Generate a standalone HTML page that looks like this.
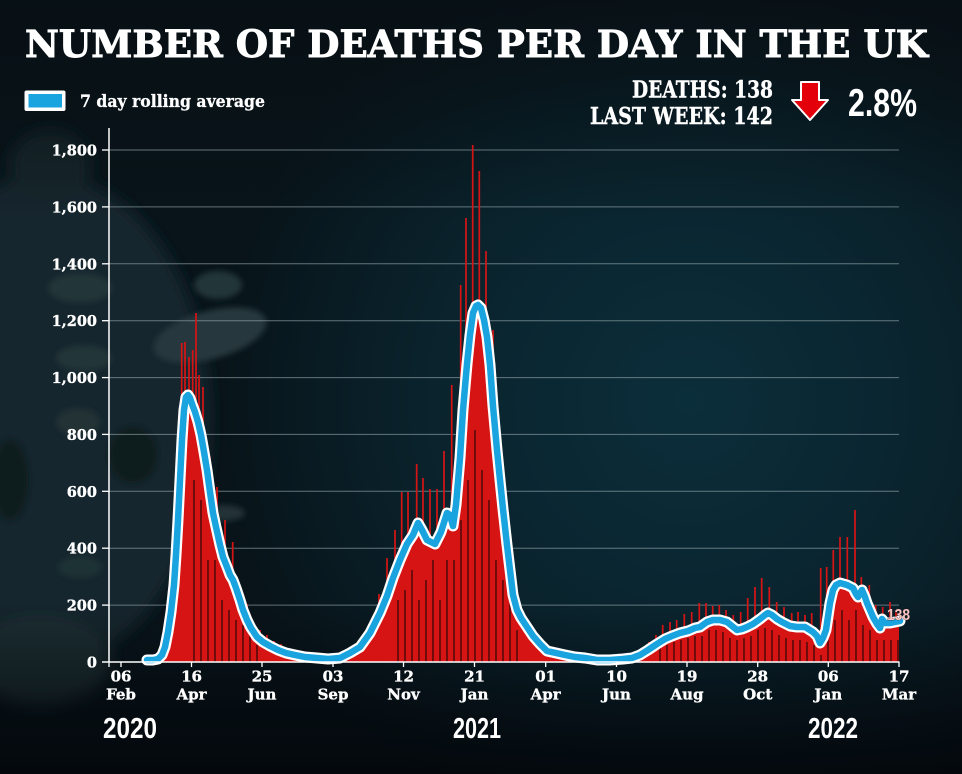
<!DOCTYPE html>
<html>
<head>
<meta charset="utf-8">
<style>
  html,body{margin:0;padding:0;background:#08141a;}
  svg{display:block;}
  .serif{font-family:"DejaVu Serif","Liberation Serif",serif;font-weight:bold;}
  .sans{font-family:"Liberation Sans","DejaVu Sans",sans-serif;font-weight:bold;}
</style>
</head>
<body>
<svg width="962" height="774" viewBox="0 0 962 774" xmlns="http://www.w3.org/2000/svg">
  <defs>
    <radialGradient id="bgRad" cx="690" cy="400" r="470" gradientUnits="userSpaceOnUse">
      <stop offset="0" stop-color="#0b2e3b"/>
      <stop offset="0.55" stop-color="#0a232d"/>
      <stop offset="1" stop-color="#08141a"/>
    </radialGradient>
    <linearGradient id="bottomFade" x1="0" y1="600" x2="0" y2="774" gradientUnits="userSpaceOnUse">
      <stop offset="0" stop-color="#03060a" stop-opacity="0"/>
      <stop offset="1" stop-color="#03060a" stop-opacity="0.85"/>
    </linearGradient>
    <linearGradient id="topFade" x1="0" y1="0" x2="0" y2="220" gradientUnits="userSpaceOnUse">
      <stop offset="0" stop-color="#070e12" stop-opacity="0.75"/>
      <stop offset="1" stop-color="#070e12" stop-opacity="0"/>
    </linearGradient>
    <filter id="blur8" x="-30%" y="-30%" width="160%" height="160%"><feGaussianBlur stdDeviation="8"/></filter>
    <filter id="blur3" x="-30%" y="-30%" width="160%" height="160%"><feGaussianBlur stdDeviation="3"/></filter>
  </defs>

  <!-- background -->
  <rect x="0" y="0" width="962" height="774" fill="#08141a"/>
  <rect x="0" y="0" width="962" height="774" fill="url(#bgRad)"/>
  <!-- virus on left -->
  <g filter="url(#blur8)">
    <ellipse cx="45" cy="420" rx="165" ry="245" fill="#16282d"/>
    <ellipse cx="40" cy="660" rx="70" ry="45" fill="#1a2e33"/>
    <ellipse cx="50" cy="165" rx="40" ry="35" fill="#14252a"/>
  </g>
  <g filter="url(#blur3)">
    <ellipse cx="210" cy="335" rx="58" ry="24" transform="rotate(-15 210 335)" fill="#26393e"/>
    <ellipse cx="218" cy="285" rx="24" ry="14" fill="#223539"/>
    <ellipse cx="80" cy="288" rx="32" ry="15" fill="#233639"/>
    <ellipse cx="84" cy="358" rx="28" ry="13" fill="#213437"/>
    <ellipse cx="78" cy="422" rx="22" ry="14" fill="#203336"/>
    <ellipse cx="133" cy="455" rx="24" ry="28" fill="#0d1a1e"/>
    <ellipse cx="225" cy="513" rx="20" ry="8" fill="#203336"/>
    <ellipse cx="80" cy="567" rx="22" ry="11" fill="#1f3235"/>
    <ellipse cx="10" cy="480" rx="18" ry="40" fill="#0e1b1f"/>
  </g>
  <rect x="0" y="0" width="962" height="774" fill="url(#topFade)"/>
  <rect x="0" y="0" width="962" height="774" fill="url(#bottomFade)"/>

  <!-- title -->
  <text class="serif" x="25" y="57" font-size="37" fill="#ffffff" stroke="#ffffff" stroke-width="0.9" textLength="903" lengthAdjust="spacingAndGlyphs">NUMBER OF DEATHS PER DAY IN THE UK</text>

  <!-- legend -->
  <rect x="24.5" y="90.5" width="41" height="20.5" rx="2" fill="#ffffff"/>
  <rect x="28.5" y="94" width="33.5" height="13.5" fill="#19a3df"/>
  <text class="serif" x="80" y="107" font-size="17" fill="#ffffff" stroke="#ffffff" stroke-width="0.3" textLength="185" lengthAdjust="spacingAndGlyphs">7 day rolling average</text>

  <!-- deaths stats -->
  <text class="serif" x="632" y="97.5" font-size="23" fill="#ffffff" stroke="#ffffff" stroke-width="0.4" textLength="141" lengthAdjust="spacingAndGlyphs">DEATHS: 138</text>
  <text class="serif" x="590" y="124" font-size="23" fill="#ffffff" stroke="#ffffff" stroke-width="0.4" textLength="183" lengthAdjust="spacingAndGlyphs">LAST WEEK: 142</text>
  <polygon points="801,82 819,82 819,100 828,100 810,120 792,100 801,100" fill="#e3000b" stroke="#ffffff" stroke-width="2" stroke-linejoin="round"/>
  <text class="sans" x="848" y="116" font-size="39" fill="#ffffff" textLength="69" lengthAdjust="spacingAndGlyphs">2.8%</text>

  <!-- gridlines -->
  <g stroke="#9fb0b6" stroke-opacity="0.6" stroke-width="1">
    <line x1="109" y1="605.1" x2="899" y2="605.1"/>
    <line x1="109" y1="548.2" x2="899" y2="548.2"/>
    <line x1="109" y1="491.3" x2="899" y2="491.3"/>
    <line x1="109" y1="434.4" x2="899" y2="434.4"/>
    <line x1="109" y1="377.6" x2="899" y2="377.6"/>
    <line x1="109" y1="320.7" x2="899" y2="320.7"/>
    <line x1="109" y1="263.8" x2="899" y2="263.8"/>
    <line x1="109" y1="206.9" x2="899" y2="206.9"/>
    <line x1="109" y1="150" x2="899" y2="150"/>
  </g>

  <!-- y labels -->
  <g class="serif" font-size="14.5" fill="#ffffff" stroke="#ffffff" stroke-width="0.35" text-anchor="end">
    <text x="97" y="667.5">0</text>
    <text x="97" y="610.6">200</text>
    <text x="97" y="553.7">400</text>
    <text x="97" y="496.8">600</text>
    <text x="97" y="439.9">800</text>
    <text x="97" y="383.1">1,000</text>
    <text x="97" y="326.2">1,200</text>
    <text x="97" y="269.3">1,400</text>
    <text x="97" y="212.4">1,600</text>
    <text x="97" y="155.5">1,800</text>
  </g>

  <!-- red daily area -->
  <path fill="#d71414" d="M158,662 L158,659 L162,655 L165,647 L168,632 L171,612 L174,585 L176,555 L178,520 L180,480 L182,440 L184,410 L186,397 L188,395 L190,398 L192,404 L195,412 L198,422 L201,435 L204,452 L207,470 L210,492 L213,513 L216,527 L220,545 L223,557 L227,567 L230,575 L233,580 L236,588 L240,600 L243,610 L247,620 L251,628 L257,637 L263,642 L270,646 L278,650 L286,653 L295,655 L305,657 L317,658 L328,659 L340,658 L350,653 L360,647 L370,633 L380,613 L387,596 L393,578 L400,560 L407,544 L413,535 L418,523 L422,530 L427,540 L435,544 L441,532 L447,513 L450,515 L453,526 L456,505 L460,458 L463,410 L467,364 L470,335 L473,313 L476,306 L478,305 L481,308 L484,320 L487,337 L490,365 L493,406 L497,450 L500,480 L503,509 L507,545 L510,570 L513,595 L517,610 L521,618 L527,627 L533,636 L540,644 L547,651 L556,653 L565,655 L575,657 L585,658 L597,660 L610,660 L623,659 L632,658 L640,655 L648,650 L657,644 L665,639 L672,636 L680,633 L688,631 L695,628 L700,627 L707,622 L713,620 L720,620 L727,622 L732,626 L737,630 L742,629 L747,627 L753,624 L760,619 L765,615 L768,613 L772,615 L777,619 L782,622 L790,626 L797,627 L805,627 L813,632 L817,636 L820,643 L823,638 L826,630 L830,603 L833,590 L836,585 L840,583 L847,585 L853,588 L856,594 L858,597 L862,590 L865,597 L867,603 L870,610 L873,617 L877,624 L880,628 L882,619 L885,623 L890,623 L895,622 L899,621 L899,662 Z"/>

  <!-- red spikes -->
  <path stroke="#d71414" stroke-width="1.7" fill="none" d="
    M168,662V610 M175,662V540 M181.7,662V343 M185,662V342 M189,662V357 M192.7,662V350 M196,662V313 M199,662V375 M203,662V387 M210,662V457 M217,662V487 M225,662V520 M232.7,662V542 M240,662V590 M247,662V604 M253,662V622 M260,662V630 M267,662V635 M274,662V641 M281,662V644
    M365,662V640 M372,662V625 M379,662V594 M387,662V558 M395,662V530 M401.7,662V492 M408,662V492 M416.7,662V464 M423,662V478 M430,662V489 M437,662V489 M444,662V451 M451.7,662V385 M460.7,662V285 M466,662V218 M472.7,662V145 M479.3,662V171 M486,662V251 M493,662V330 M496.7,662V433 M503,662V470 M510,662V540 M517,662V590 M524,662V615
    M642,662V648 M649,662V642 M656,662V635 M662.7,662V625 M670,662V622 M676.7,662V620 M684.3,662V614 M691.7,662V612 M699.3,662V603 M706,662V603 M712.7,662V606 M719.3,662V605 M726,662V610 M733.3,662V615 M740.7,662V612 M747.7,662V598 M755,662V587 M761.7,662V578 M769.3,662V587 M776.7,662V602 M784,662V607 M791.7,662V613 M798,662V612 M805,662V615 M811.7,662V613
    M820.7,662V568 M826.7,662V567 M833.3,662V550 M840,662V537 M847.3,662V537 M855,662V510 M861.3,662V577 M869.3,662V585 M875.7,662V605 M882.7,662V607 M890,662V602 M896,662V610"/>

  <!-- dark notches (low days) -->
  <path stroke="#3a0707" stroke-width="1.3" fill="none" d="
    M194,662V480 M201,662V500 M208,662V560 M215,662V560 M222,662V600 M229,662V610 M236,662V620 M243,662V625 M250,662V635 M257,662V645
    M398,662V600 M405,662V590 M412,662V570 M419,662V600 M426,662V580 M433,662V560 M440,662V600 M447,662V560 M454,662V560 M461,662V520 M468,662V480 M475,662V430 M482,662V470 M489,662V500 M496,662V560 M503,662V580 M510,662V600 M517,662V630
    M660,662V648 M667,662V645 M674,662V642 M681,662V640 M688,662V638 M695,662V636 M702,662V636 M709,662V630 M716,662V630 M723,662V632 M730,662V638 M737,662V640 M744,662V638 M751,662V636 M758,662V630 M765,662V628 M772,662V630 M779,662V635 M786,662V638 M793,662V640 M800,662V640 M807,662V642 M814,662V645 M821,662V655 M828,662V640 M835,662V620 M842,662V610 M849,662V620 M856,662V610 M863,662V625 M870,662V630 M877,662V640 M884,662V640 M891,662V640 M898,662V640"/>

  <!-- rolling average line: white outline then blue -->
  <g fill="none" stroke-linejoin="round" stroke-linecap="round">
  <path stroke="#ffffff" stroke-width="11" d="M147,660 L153,660 L158,659 L162,655 L165,647 L168,632 L171,612 L174,585 L176,555 L178,520 L180,480 L182,440 L184,410 L186,397 L188,395 L190,398 L192,404 L195,412 L198,422 L201,435 L204,452 L207,470 L210,492 L213,513 L216,527 L220,545 L223,557 L227,567 L230,575 L233,580 L236,588 L240,600 L243,610 L247,620 L251,628 L257,637 L263,642 L270,646 L278,650 L286,653 L295,655 L305,657 L317,658 L328,659 L340,658 L350,653 L360,647 L370,633 L380,613 L387,596 L393,578 L400,560 L407,544 L413,535 L418,523 L422,530 L427,540 L435,544 L441,532 L447,513 L450,515 L453,526 L456,505 L460,458 L463,410 L467,364 L470,335 L473,313 L476,306 L478,305 L481,308 L484,320 L487,337 L490,365 L493,406 L497,450 L500,480 L503,509 L507,545 L510,570 L513,595 L517,610 L521,618 L527,627 L533,636 L540,644 L547,651 L556,653 L565,655 L575,657 L585,658 L597,660 L610,660 L623,659 L632,658 L640,655 L648,650 L657,644 L665,639 L672,636 L680,633 L688,631 L695,628 L700,627 L707,622 L713,620 L720,620 L727,622 L732,626 L737,630 L742,629 L747,627 L753,624 L760,619 L765,615 L768,613 L772,615 L777,619 L782,622 L790,626 L797,627 L805,627 L813,632 L817,636 L820,643 L823,638 L826,630 L830,603 L833,590 L836,585 L840,583 L847,585 L853,588 L856,594 L858,597 L862,590 L865,597 L867,603 L870,610 L873,617 L877,624 L880,628 L882,619 L885,623 L890,623 L895,622 L900,621"/>
  <path stroke="#19a3df" stroke-width="6.5" d="M147,660 L153,660 L158,659 L162,655 L165,647 L168,632 L171,612 L174,585 L176,555 L178,520 L180,480 L182,440 L184,410 L186,397 L188,395 L190,398 L192,404 L195,412 L198,422 L201,435 L204,452 L207,470 L210,492 L213,513 L216,527 L220,545 L223,557 L227,567 L230,575 L233,580 L236,588 L240,600 L243,610 L247,620 L251,628 L257,637 L263,642 L270,646 L278,650 L286,653 L295,655 L305,657 L317,658 L328,659 L340,658 L350,653 L360,647 L370,633 L380,613 L387,596 L393,578 L400,560 L407,544 L413,535 L418,523 L422,530 L427,540 L435,544 L441,532 L447,513 L450,515 L453,526 L456,505 L460,458 L463,410 L467,364 L470,335 L473,313 L476,306 L478,305 L481,308 L484,320 L487,337 L490,365 L493,406 L497,450 L500,480 L503,509 L507,545 L510,570 L513,595 L517,610 L521,618 L527,627 L533,636 L540,644 L547,651 L556,653 L565,655 L575,657 L585,658 L597,660 L610,660 L623,659 L632,658 L640,655 L648,650 L657,644 L665,639 L672,636 L680,633 L688,631 L695,628 L700,627 L707,622 L713,620 L720,620 L727,622 L732,626 L737,630 L742,629 L747,627 L753,624 L760,619 L765,615 L768,613 L772,615 L777,619 L782,622 L790,626 L797,627 L805,627 L813,632 L817,636 L820,643 L823,638 L826,630 L830,603 L833,590 L836,585 L840,583 L847,585 L853,588 L856,594 L858,597 L862,590 L865,597 L867,603 L870,610 L873,617 L877,624 L880,628 L882,619 L885,623 L890,623 L895,622 L900,621"/>
  </g>

  <!-- 138 label -->
  <text class="sans" x="887" y="620" font-size="16" fill="#f6c6c4" stroke="#3a1010" stroke-width="0.6" paint-order="stroke" textLength="23" lengthAdjust="spacingAndGlyphs">138</text>

  <!-- axes -->
  <line x1="109" y1="128" x2="109" y2="662" stroke="#ffffff" stroke-width="1.5"/>
  <line x1="102" y1="662" x2="899.5" y2="662" stroke="#ffffff" stroke-width="1.5"/>
  <g stroke="#ffffff" stroke-width="1.3">
    <line x1="102" y1="605.1" x2="109" y2="605.1"/>
    <line x1="102" y1="548.2" x2="109" y2="548.2"/>
    <line x1="102" y1="491.3" x2="109" y2="491.3"/>
    <line x1="102" y1="434.4" x2="109" y2="434.4"/>
    <line x1="102" y1="377.6" x2="109" y2="377.6"/>
    <line x1="102" y1="320.7" x2="109" y2="320.7"/>
    <line x1="102" y1="263.8" x2="109" y2="263.8"/>
    <line x1="102" y1="206.9" x2="109" y2="206.9"/>
    <line x1="102" y1="150" x2="109" y2="150"/>
    <line x1="109" y1="662" x2="109" y2="667"/>
    <line x1="121" y1="662" x2="121" y2="667"/>
    <line x1="191.5" y1="662" x2="191.5" y2="667"/>
    <line x1="262" y1="662" x2="262" y2="667"/>
    <line x1="333" y1="662" x2="333" y2="667"/>
    <line x1="403.5" y1="662" x2="403.5" y2="667"/>
    <line x1="474.5" y1="662" x2="474.5" y2="667"/>
    <line x1="545.7" y1="662" x2="545.7" y2="667"/>
    <line x1="616.5" y1="662" x2="616.5" y2="667"/>
    <line x1="687" y1="662" x2="687" y2="667"/>
    <line x1="757.7" y1="662" x2="757.7" y2="667"/>
    <line x1="828.3" y1="662" x2="828.3" y2="667"/>
    <line x1="899" y1="662" x2="899" y2="667"/>
  </g>

  <!-- x labels -->
  <g class="serif" font-size="15" fill="#ffffff" stroke="#ffffff" stroke-width="0.35" text-anchor="middle">
    <text x="121" y="681.5">06</text><text x="121" y="699.5">Feb</text>
    <text x="191.5" y="681.5">16</text><text x="191.5" y="699.5">Apr</text>
    <text x="262" y="681.5">25</text><text x="262" y="699.5">Jun</text>
    <text x="333" y="681.5">03</text><text x="333" y="699.5">Sep</text>
    <text x="403.5" y="681.5">12</text><text x="403.5" y="699.5">Nov</text>
    <text x="474.5" y="681.5">21</text><text x="474.5" y="699.5">Jan</text>
    <text x="545.7" y="681.5">01</text><text x="545.7" y="699.5">Apr</text>
    <text x="616.5" y="681.5">10</text><text x="616.5" y="699.5">Jun</text>
    <text x="687" y="681.5">19</text><text x="687" y="699.5">Aug</text>
    <text x="757.7" y="681.5">28</text><text x="757.7" y="699.5">Oct</text>
    <text x="828.3" y="681.5">06</text><text x="828.3" y="699.5">Jan</text>
    <text x="899" y="681.5">17</text><text x="899" y="699.5">Mar</text>
  </g>

  <!-- years -->
  <g class="sans" font-size="29" fill="#ffffff">
    <text x="103" y="738" textLength="54" lengthAdjust="spacingAndGlyphs">2020</text>
    <text x="453" y="738" textLength="48" lengthAdjust="spacingAndGlyphs">2021</text>
    <text x="808" y="738" textLength="50" lengthAdjust="spacingAndGlyphs">2022</text>
  </g>
</svg>
</body>
</html>
